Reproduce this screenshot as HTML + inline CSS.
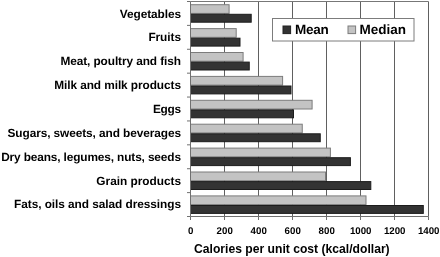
<!DOCTYPE html>
<html><head><meta charset="utf-8"><title>Calories per unit cost</title>
<style>
html,body{margin:0;padding:0;background:#fff;}
body{width:440px;height:257px;overflow:hidden;}
svg{display:block;will-change:transform;filter:blur(0.3px);}
text{font-family:"Liberation Sans",Arial,sans-serif;font-weight:bold;fill:#000;}
.cat{font-size:11.85px;text-anchor:end;text-rendering:geometricPrecision;}
.tick{font-size:9.7px;text-anchor:middle;text-rendering:geometricPrecision;}
.title{font-size:12.15px;}
.leg{font-size:13.5px;text-rendering:geometricPrecision;}
</style></head><body>
<svg width="440" height="257" viewBox="0 0 440 257">
<rect x="0" y="0" width="440" height="257" fill="#fff"/>

<line x1="224.5" y1="1.5" x2="224.5" y2="216.5" stroke="#606060" stroke-width="1"/>
<line x1="258.5" y1="1.5" x2="258.5" y2="216.5" stroke="#606060" stroke-width="1"/>
<line x1="292.5" y1="1.5" x2="292.5" y2="216.5" stroke="#606060" stroke-width="1"/>
<line x1="326.5" y1="1.5" x2="326.5" y2="216.5" stroke="#606060" stroke-width="1"/>
<line x1="360.5" y1="1.5" x2="360.5" y2="216.5" stroke="#606060" stroke-width="1"/>
<line x1="394.5" y1="1.5" x2="394.5" y2="216.5" stroke="#606060" stroke-width="1"/>
<line x1="428.5" y1="1.5" x2="428.5" y2="216.5" stroke="#606060" stroke-width="1"/>
<line x1="190.5" y1="1.5" x2="428.5" y2="1.5" stroke="#777" stroke-width="1"/>
<rect x="190.5" y="4.70" width="38.60" height="8.7" fill="#c3c3c3" stroke="#7c7c7c" stroke-width="1"/>
<rect x="190.5" y="14.30" width="60.70" height="7.9" fill="#333" stroke="#1c1c1c" stroke-width="1"/>
<rect x="190.5" y="28.60" width="45.70" height="8.7" fill="#c3c3c3" stroke="#7c7c7c" stroke-width="1"/>
<rect x="190.5" y="38.20" width="49.50" height="7.9" fill="#333" stroke="#1c1c1c" stroke-width="1"/>
<rect x="190.5" y="52.50" width="52.60" height="8.7" fill="#c3c3c3" stroke="#7c7c7c" stroke-width="1"/>
<rect x="190.5" y="62.10" width="58.75" height="7.9" fill="#333" stroke="#1c1c1c" stroke-width="1"/>
<rect x="190.5" y="76.40" width="92.10" height="8.7" fill="#c3c3c3" stroke="#7c7c7c" stroke-width="1"/>
<rect x="190.5" y="86.00" width="100.50" height="7.9" fill="#333" stroke="#1c1c1c" stroke-width="1"/>
<rect x="190.5" y="100.30" width="121.60" height="8.7" fill="#c3c3c3" stroke="#7c7c7c" stroke-width="1"/>
<rect x="190.5" y="109.90" width="103.00" height="7.9" fill="#333" stroke="#1c1c1c" stroke-width="1"/>
<rect x="190.5" y="124.20" width="111.75" height="8.7" fill="#c3c3c3" stroke="#7c7c7c" stroke-width="1"/>
<rect x="190.5" y="133.80" width="129.75" height="7.9" fill="#333" stroke="#1c1c1c" stroke-width="1"/>
<rect x="190.5" y="148.10" width="139.90" height="8.7" fill="#c3c3c3" stroke="#7c7c7c" stroke-width="1"/>
<rect x="190.5" y="157.70" width="159.90" height="7.9" fill="#333" stroke="#1c1c1c" stroke-width="1"/>
<rect x="190.5" y="172.00" width="135.00" height="8.7" fill="#c3c3c3" stroke="#7c7c7c" stroke-width="1"/>
<rect x="190.5" y="181.60" width="180.30" height="7.9" fill="#333" stroke="#1c1c1c" stroke-width="1"/>
<rect x="190.5" y="195.90" width="175.50" height="8.7" fill="#c3c3c3" stroke="#7c7c7c" stroke-width="1"/>
<rect x="190.5" y="205.50" width="232.80" height="7.9" fill="#333" stroke="#1c1c1c" stroke-width="1"/>
<line x1="190.5" y1="1.5" x2="190.5" y2="216.5" stroke="#707070" stroke-width="1"/>
<line x1="190.5" y1="216.5" x2="428.5" y2="216.5" stroke="#707070" stroke-width="1"/>
<line x1="187" y1="1.50" x2="190.5" y2="1.50" stroke="#707070" stroke-width="1"/>
<line x1="187" y1="25.39" x2="190.5" y2="25.39" stroke="#707070" stroke-width="1"/>
<line x1="187" y1="49.28" x2="190.5" y2="49.28" stroke="#707070" stroke-width="1"/>
<line x1="187" y1="73.17" x2="190.5" y2="73.17" stroke="#707070" stroke-width="1"/>
<line x1="187" y1="97.06" x2="190.5" y2="97.06" stroke="#707070" stroke-width="1"/>
<line x1="187" y1="120.94" x2="190.5" y2="120.94" stroke="#707070" stroke-width="1"/>
<line x1="187" y1="144.83" x2="190.5" y2="144.83" stroke="#707070" stroke-width="1"/>
<line x1="187" y1="168.72" x2="190.5" y2="168.72" stroke="#707070" stroke-width="1"/>
<line x1="187" y1="192.61" x2="190.5" y2="192.61" stroke="#707070" stroke-width="1"/>
<line x1="187" y1="216.50" x2="190.5" y2="216.50" stroke="#707070" stroke-width="1"/>
<line x1="190.5" y1="216.5" x2="190.5" y2="220" stroke="#707070" stroke-width="1"/>
<text class="tick" x="190.7" y="234">0</text>
<line x1="224.5" y1="216.5" x2="224.5" y2="220" stroke="#707070" stroke-width="1"/>
<text class="tick" x="224.7" y="234">200</text>
<line x1="258.5" y1="216.5" x2="258.5" y2="220" stroke="#707070" stroke-width="1"/>
<text class="tick" x="258.7" y="234">400</text>
<line x1="292.5" y1="216.5" x2="292.5" y2="220" stroke="#707070" stroke-width="1"/>
<text class="tick" x="292.7" y="234">600</text>
<line x1="326.5" y1="216.5" x2="326.5" y2="220" stroke="#707070" stroke-width="1"/>
<text class="tick" x="326.7" y="234">800</text>
<line x1="360.5" y1="216.5" x2="360.5" y2="220" stroke="#707070" stroke-width="1"/>
<text class="tick" x="360.7" y="234">1000</text>
<line x1="394.5" y1="216.5" x2="394.5" y2="220" stroke="#707070" stroke-width="1"/>
<text class="tick" x="394.7" y="234">1200</text>
<line x1="428.5" y1="216.5" x2="428.5" y2="220" stroke="#707070" stroke-width="1"/>
<text class="tick" x="428.7" y="234">1400</text>
<text class="cat" x="181" y="17.9" textLength="61.21" lengthAdjust="spacing">Vegetables</text>
<text class="cat" x="181" y="41.4" textLength="32.62" lengthAdjust="spacing">Fruits</text>
<text class="cat" x="181" y="65.0" textLength="120.58" lengthAdjust="spacing">Meat, poultry and fish</text>
<text class="cat" x="181" y="89.3" textLength="126.79" lengthAdjust="spacing">Milk and milk products</text>
<text class="cat" x="181" y="112.9" textLength="27.96" lengthAdjust="spacing">Eggs</text>
<text class="cat" x="181" y="137.0" textLength="173.45" lengthAdjust="spacing">Sugars, sweets, and beverages</text>
<text class="cat" x="181" y="160.9" textLength="179.87" lengthAdjust="spacing">Dry beans, legumes, nuts, seeds</text>
<text class="cat" x="181" y="184.5" textLength="84.64" lengthAdjust="spacing">Grain products</text>
<text class="cat" x="181" y="208.0" textLength="166.94" lengthAdjust="spacing">Fats, oils and salad dressings</text>
<text class="title" x="194" y="252.8">Calories per unit cost (kcal/dollar)</text>
<rect x="272.5" y="18.5" width="141.5" height="22.5" fill="#fff" stroke="#7c7c7c" stroke-width="1"/>
<rect x="283" y="26" width="7.6" height="7.6" fill="#333" stroke="#222" stroke-width="1"/>
<text class="leg" x="295.0" y="34" textLength="33.7" lengthAdjust="spacing">Mean</text>
<rect x="348" y="26" width="7.6" height="7.6" fill="#c3c3c3" stroke="#7c7c7c" stroke-width="1"/>
<text class="leg" x="359.5" y="34">Median</text>
</svg></body></html>
